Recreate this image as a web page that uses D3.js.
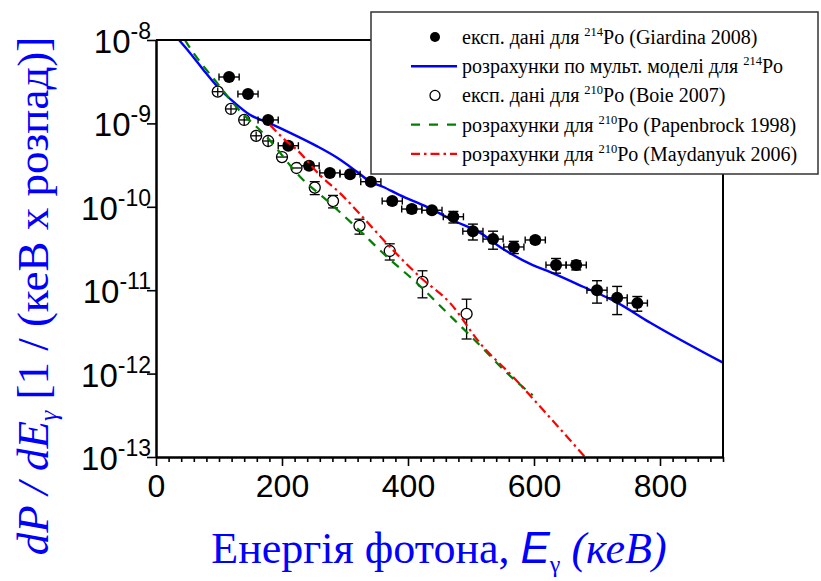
<!DOCTYPE html>
<html><head><meta charset="utf-8">
<script src="https://cdn.jsdelivr.net/npm/d3@7"></script>
<style>body{margin:0;background:#fff}svg{display:block}
.serif{font-family:"Liberation Serif","Tinos","Times New Roman","DejaVu Serif",serif}
.sans{font-family:"Liberation Sans",Arimo,Arial,sans-serif}
</style>
</head><body><svg id="c" width="821" height="581"></svg>
<script>
// ---------- data ----------
// 214Po experimental (Giardina 2008)
const giardinaE    = [116,146,178,210,243,276,308,341,375,406,438,472,503,535,568,602,635,667,700,732,764];
const giardinaP    = [3.6e-9,2.25e-9,1.1e-9,5.4e-10,3.1e-10,2.55e-10,2.45e-10,2.0e-10,1.17e-10,9.4e-11,9.1e-11,7.6e-11,5.1e-11,4.1e-11,3.3e-11,4.0e-11,2.0e-11,2.0e-11,1.0e-11,8.1e-12,7.0e-12];
const giardinaErrE = [16,16,16,16,16,16,16,16,16,16,16,16,16,16,16,16,16,16,16,16,16];
const giardinaErrP = [0.25e-9,0.15e-9,0.08e-9,0.4e-10,0.25e-10,0.2e-10,0.2e-10,0.16e-10,0.1e-10,0.9e-11,0.7e-11,1.2e-11,1.1e-11,1.0e-11,0.55e-11,0.35e-11,0.4e-11,0.25e-11,0.3e-11,0.3e-11,0.14e-11];
// 210Po experimental (Boie 2007)
const boieE    = [98,119,140,159,178,200,223,252,281,323,371,423,493];
const boieP    = [2.4e-9,1.49e-9,1.1e-9,7.1e-10,6.15e-10,3.95e-10,2.92e-10,1.7e-10,1.17e-10,5.9e-11,2.95e-11,1.26e-11,5.2e-12];
const boieErrE = [8,8,8,8,8,8,8,0,0,0,0,0,0];
const boieErrP = [0.3e-9,0.19e-9,0.14e-9,0.9e-10,0.8e-10,0,0,0.3e-10,0.2e-10,1.2e-11,0.65e-11,0.45e-11,0.26e-11];
// multipole model for 214Po
const multE = [36.5,54,75,98,125,149,178,213,256,287,319,340,360,387,430,471,514,546,598,625,678,732,784,900];
const multP = [1.0e-8,7.0e-9,4.4e-9,2.73e-9,1.76e-9,1.27e-9,1.02e-9,7.7e-10,5.3e-10,3.9e-10,2.63e-10,2.0e-10,1.74e-10,1.38e-10,1.0e-10,6.9e-11,4.9e-11,3.3e-11,2.0e-11,1.66e-11,1.1e-11,7.1e-12,4.1e-12,1.35e-12];
// Papenbrock 1998 for 210Po
const papE = [46,51,97,129,176,229,276,319,367,414,462,510,557,598];
const papP = [1.0e-8,8.7e-9,3.05e-9,1.53e-9,6.87e-10,2.28e-10,1.11e-10,5.57e-11,2.5e-11,1.22e-11,5.37e-12,2.35e-12,1.02e-12,5.5e-13];
// Maydanyuk 2006 for 210Po
const mayE = [181,205,224,260,292,335,376,419,467,514,567,610,681];
const mayP = [9.57e-10,6.3e-10,4.8e-10,2.4e-10,1.46e-10,6.6e-11,3.03e-11,1.44e-11,7.0e-12,2.33e-12,9.1e-13,4.0e-13,1.0e-13];
// ticks
const xTicksMajor = [0,200,400,600,800];
const yExponents  = [-8,-9,-10,-11,-12,-13];
// legend
const legendPre  = ["експ. дані для ","розрахунки по мульт. моделі для ","експ. дані для ","розрахунки для ","розрахунки для "];
const legendSup  = ["214","214","210","210","210"];
const legendPost = ["Po (Giardina 2008)","Po","Po (Boie 2007)","Po (Papenbrock 1998)","Po (Maydanyuk 2006)"];

// ---------- chart ----------
const svg = d3.select("#c");
svg.append("rect").attr("width",821).attr("height",581).attr("fill","#fff");
const L=156, R=723, T=40, B=457;
const x = d3.scaleLinear().domain([0,900]).range([L,R]);
const y = d3.scaleLog().domain([1e-13,1e-8]).range([B,T]);

svg.append("clipPath").attr("id","clip").append("rect")
  .attr("x",L).attr("y",T).attr("width",R-L).attr("height",B-T);
const plot = svg.append("g").attr("clip-path","url(#clip)");

const line = d3.line().x(d=>x(d[0])).y(d=>y(d[1])).curve(d3.curveMonotoneX);
const zip = (a,b)=>a.map((v,i)=>[v,b[i]]);

// blue model curve
plot.append("path").datum(zip(multE,multP)).attr("d",line)
  .attr("fill","none").attr("stroke","#0000ff").attr("stroke-width",2.4);

// filled data
const fg = plot.append("g").attr("stroke","#000").attr("stroke-width",1.4);
giardinaE.forEach((e,i)=>{
  const cx=x(e), cy=y(giardinaP[i]);
  const x0=x(e-giardinaErrE[i]), x1=x(e+giardinaErrE[i]);
  const y0=y(giardinaP[i]+giardinaErrP[i]), y1=y(giardinaP[i]-giardinaErrP[i]);
  fg.append("line").attr("x1",x0).attr("x2",x1).attr("y1",cy).attr("y2",cy);
  fg.append("line").attr("x1",x0).attr("x2",x0).attr("y1",cy-3.5).attr("y2",cy+3.5);
  fg.append("line").attr("x1",x1).attr("x2",x1).attr("y1",cy-3.5).attr("y2",cy+3.5);
  fg.append("line").attr("x1",cx).attr("x2",cx).attr("y1",y0).attr("y2",y1);
  fg.append("line").attr("x1",cx-5).attr("x2",cx+5).attr("y1",y0).attr("y2",y0);
  fg.append("line").attr("x1",cx-5).attr("x2",cx+5).attr("y1",y1).attr("y2",y1);
});
giardinaE.forEach((e,i)=>{
  plot.append("circle").attr("cx",x(e)).attr("cy",y(giardinaP[i])).attr("r",6).attr("fill","#000");
});

// open data
const og = plot.append("g").attr("stroke","#000").attr("stroke-width",1.3);
const RO = 5.5;
const topBars = [];
boieE.forEach((e,i)=>{
  const cx=x(e), cy=y(boieP[i]);
  if (boieErrP[i]>0){
    const y0=y(boieP[i]+boieErrP[i]), y1=y(boieP[i]-boieErrP[i]);
    if (cy-y0 > RO && y1-cy > RO){
      og.append("line").attr("x1",cx).attr("x2",cx).attr("y1",y0).attr("y2",y1);
      og.append("line").attr("x1",cx-5).attr("x2",cx+5).attr("y1",y0).attr("y2",y0);
      og.append("line").attr("x1",cx-5).attr("x2",cx+5).attr("y1",y1).attr("y2",y1);
    } else {
      topBars.push([cx,Math.max(y0,cy-RO),cx,Math.min(y1,cy+RO)]);
    }
  }
  if (boieErrE[i]>0){
    topBars.push([Math.max(x(e-boieErrE[i]),cx-RO),cy,Math.min(x(e+boieErrE[i]),cx+RO),cy]);
  }
});
boieE.forEach((e,i)=>{
  og.append("circle").attr("cx",x(e)).attr("cy",y(boieP[i])).attr("r",RO).attr("fill","#fff");
});
topBars.forEach(b=>og.append("line").attr("x1",b[0]).attr("y1",b[1]).attr("x2",b[2]).attr("y2",b[3]));

// green dashed
plot.append("path").datum(zip(papE,papP)).attr("d",line)
  .attr("fill","none").attr("stroke","#008000").attr("stroke-width",2.2).attr("stroke-dasharray","9,7");
// red dash-dot
plot.append("path").datum(zip(mayE,mayP)).attr("d",line)
  .attr("fill","none").attr("stroke","#ff0000").attr("stroke-width",2.2).attr("stroke-dasharray","9,4,2.5,4");

// ---------- axes ----------
const minorX = d3.range(0,901,20).filter(v=>!xTicksMajor.includes(v));
const gx = svg.append("g").attr("transform",`translate(0,${B})`);
gx.call(d3.axisBottom(x).tickValues(minorX).tickSize(5).tickSizeOuter(0).tickFormat(""));
gx.append("g").call(d3.axisBottom(x).tickValues(xTicksMajor).tickSize(9).tickSizeOuter(0).tickPadding(8).tickFormat(d3.format("d")));
gx.selectAll("path").attr("stroke","#000").attr("stroke-width",2);
gx.selectAll("line").attr("stroke","#000").attr("stroke-width",1.6);
gx.selectAll("text").attr("class","sans").attr("font-family",null).attr("font-size",32).attr("fill","#000");

const minorY = [];
yExponents.forEach(ex=>{ if (ex>-8) for(let k=2;k<=9;k++) minorY.push(k*Math.pow(10,ex)); });
const gy = svg.append("g").attr("transform",`translate(${L},0)`);
gy.call(d3.axisLeft(y).tickValues(minorY).tickSize(4.5).tickSizeOuter(0).tickFormat(""));
gy.append("g").call(d3.axisLeft(y).tickValues(yExponents.map(e=>Math.pow(10,e))).tickSize(9).tickSizeOuter(0).tickFormat(""));
gy.selectAll("path").attr("stroke","#000").attr("stroke-width",2);
gy.selectAll("line").attr("stroke","#000").attr("stroke-width",1.6);

yExponents.forEach(ex=>{
  const t = svg.append("text").attr("class","sans").attr("x",151).attr("y",y(Math.pow(10,ex))+13)
    .attr("text-anchor","end").attr("font-size",33).attr("fill","#000");
  t.append("tspan").text("10");
  t.append("tspan").attr("dy",-14).attr("font-size",23).text(String(ex));
});

// frame top & right
svg.append("line").attr("x1",L).attr("x2",R).attr("y1",T).attr("y2",T).attr("stroke","#000").attr("stroke-width",2);
svg.append("line").attr("x1",R).attr("x2",R).attr("y1",T).attr("y2",B).attr("stroke","#000").attr("stroke-width",2);

// ---------- titles ----------
const xt = svg.append("text").attr("class","serif").attr("x",439).attr("y",563).attr("text-anchor","middle")
  .attr("font-size",44).attr("fill","#0000ff");
xt.append("tspan").text("Енергія фотона, ");
xt.append("tspan").attr("class","sans").attr("font-style","italic").text("E");
xt.append("tspan").attr("font-size",24).attr("dy",9).text("γ");
xt.append("tspan").attr("dy",-9).attr("font-style","italic").text(" (кеВ)");

const yt = svg.append("text").attr("class","serif").attr("transform","translate(48,296) rotate(-90)").attr("text-anchor","middle")
  .attr("font-size",45).attr("fill","#0000ff");
yt.append("tspan").attr("font-style","italic").text("dP / dE");
yt.append("tspan").attr("font-size",26).attr("font-style","italic").attr("dy",9).text("γ");
yt.append("tspan").attr("dy",-9).text(" [1 / (кеВ х розпад)]");

// ---------- legend ----------
const lg = svg.append("g");
lg.append("rect").attr("x",371).attr("y",12).attr("width",447).attr("height",162)
  .attr("fill","#fff").attr("stroke","#333").attr("stroke-width",1.5);
const rowY = d3.range(5).map(i=>37+i*29.2);
lg.append("circle").attr("cx",435).attr("cy",rowY[0]).attr("r",5).attr("fill","#000");
lg.append("line").attr("x1",411).attr("x2",457).attr("y1",rowY[1]).attr("y2",rowY[1]).attr("stroke","#0000ff").attr("stroke-width",2.4);
lg.append("circle").attr("cx",435).attr("cy",rowY[2]).attr("r",5).attr("fill","#fff").attr("stroke","#000").attr("stroke-width",1.3);
lg.append("line").attr("x1",411).attr("x2",457).attr("y1",rowY[3]).attr("y2",rowY[3]).attr("stroke","#008000").attr("stroke-width",2.2).attr("stroke-dasharray","9,9");
lg.append("line").attr("x1",411).attr("x2",457).attr("y1",rowY[4]).attr("y2",rowY[4]).attr("stroke","#ff0000").attr("stroke-width",2.2).attr("stroke-dasharray","9,4,2.5,4");
legendPre.forEach((p,i)=>{
  const t = lg.append("text").attr("class","serif").attr("x",462).attr("y",rowY[i]+7).attr("font-size",20).attr("fill","#000");
  t.append("tspan").text(p);
  t.append("tspan").attr("font-size",12.5).attr("dy",-8).text(legendSup[i]);
  t.append("tspan").attr("dy",8).text(legendPost[i]);
});
</script></body></html>
